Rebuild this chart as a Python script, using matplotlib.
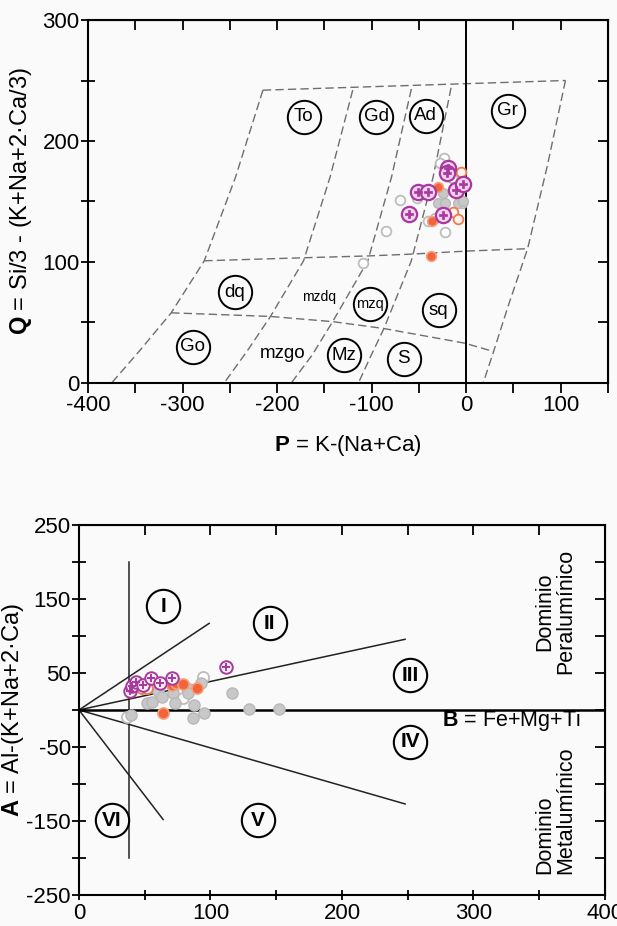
import matplotlib
matplotlib.use('Agg')
import matplotlib.pyplot as plt

plt.rcParams['font.family'] = ['Liberation Sans', 'DejaVu Sans']
plt.rcParams['mathtext.fontset'] = 'custom'
plt.rcParams['mathtext.rm'] = 'Liberation Sans'
plt.rcParams['mathtext.bf'] = 'Liberation Sans:bold'

# ---------------- P-Q diagram: field boundaries ----------------
pq_top_x = [-215, 105]
pq_top_y = [242, 250]
pq_h100_x = [-277, -172, -104, -58, 0, 65]
pq_h100_y = [101, 103.5, 105, 106.5, 109, 111]
pq_h58_x = [-312, -207, -141, -87, -2, 29]
pq_h58_y = [58, 55, 50.7, 45, 33, 26]
pq_c1_x = [-215, -244, -277, -312, -345, -375]
pq_c1_y = [242, 170, 101, 58, 27, 0]
pq_c2_x = [-120, -144, -172, -207, -232, -256]
pq_c2_y = [242, 170, 101, 55, 26, 0]
pq_c3_x = [-58, -79, -104, -141, -163, -185]
pq_c3_y = [243, 170, 101, 51, 23, 0]
pq_c4_x = [-16, -35, -58, -87, -101, -114]
pq_c4_y = [244, 170, 101, 45, 22, 0]
pq_c5_x = [105, 86, 65, 45, 29, 18]
pq_c5_y = [250, 180, 111, 65, 26, 0]

pq_circ_labels = ['To', 'Gd', 'Ad', 'Gr', 'dq', 'mzq', 'sq', 'Go', 'Mz', 'S']
pq_circ_x = [-172, -95, -43, 44, -245, -102, -29, -289, -129, -66]
pq_circ_y = [220, 220, 221, 225, 75, 65, 60, 30, 23, 20]
pq_plain_labels = ['mzdq', 'mzgo']
pq_plain_x = [-156, -194]
pq_plain_y = [71, 24]

# samples
pq_purple_x = [-18.9, -20.6, -51.3, -40.0, -11.1, -3.1, -60.5, -24.2]
pq_purple_y = [177.9, 173.3, 158.1, 157.6, 159.5, 164.2, 139.4, 138.8]
pq_orange_x = [-29.5, -35.8, -37.2]
pq_orange_y = [162.2, 133.9, 105.0]
pq_orange_open_x = [-5.5, -13.6, -9.0]
pq_orange_open_y = [174.6, 141.6, 135.5]
pq_gray_x = [-29.5, -22.4, -9.0, -24.2, -3.0]
pq_gray_y = [148.5, 148.5, 148.5, 156.8, 150.0]
pq_gray_open_x = [-23.2, -27.7, -70.0, -52.3, -40.0, -22.4, -15.4, -4.8, -84.8, -108.8, -33.0]
pq_gray_open_y = [185.7, 181.5, 151.2, 152.6, 133.9, 125.0, 169.1, 148.5, 125.9, 98.9, 136.0]

pq_xticks = [-400, -350, -300, -250, -200, -150, -100, -50, 0, 50, 100, 150]
pq_xticklabels = ['-400', '', '-300', '', '-200', '', '-100', '', '0', '', '100', '']
pq_yticks = [0, 50, 100, 150, 200, 250, 300]
pq_yticklabels = ['0', '', '100', '', '200', '', '300']

# ---------------- A-B diagram ----------------
ab_lines = [
    ([0, 99], [0, 117]),
    ([0, 248], [0, 95.5]),
    ([0, 248], [0, -127]),
    ([0, 64], [0, -148]),
    ([38, 38], [-200, 200]),
]
ab_zero_x = [0, 400]
ab_zero_y = [0, 0]

ab_labels = ['I', 'II', 'III', 'IV', 'V', 'VI']
ab_label_x = [64, 145, 252, 252, 136, 25]
ab_label_y = [140, 117, 47, -43, -149, -149]

ab_purple_x = [38.5, 40.0, 43.5, 49.0, 55.0, 61.5, 71.0, 111.5]
ab_purple_y = [25.0, 32.0, 38.0, 34.0, 43.0, 37.0, 43.0, 57.7]
ab_orange_x = [64.0, 70.5, 74.0, 79.0, 89.5]
ab_orange_y = [-4.5, 34.0, 36.0, 35.0, 30.0]
ab_orange_open_x = [47.7, 51.5]
ab_orange_open_y = [30.2, 30.2]
ab_gray_x = [59.8, 63.4, 51.5, 55.3, 39.5, 81.9, 83.1, 71.7, 73.0, 87.5, 95.0,
             86.9, 92.5, 116.1, 129.5, 152.3]
ab_gray_y = [25.7, 18.0, 9.0, 11.3, -6.8, 29.3, 22.5, 22.5, 9.0, 6.8, -4.5,
             -11.3, 36.9, 23.4, 0.9, 0.9]
ab_gray_open_x = [36.3, 79.3, 94.5]
ab_gray_open_y = [-9.0, 15.8, 45.0]

ab_xticks = [0, 50, 100, 150, 200, 250, 300, 350, 400]
ab_xticklabels = ['0', '', '100', '', '200', '', '300', '', '400']
ab_yticks = [-250, -200, -150, -100, -50, 0, 50, 100, 150, 200, 250]
ab_yticklabels = ['-250', '', '-150', '', '-50', '', '50', '', '150', '', '250']

BG = '#fafafa'
PURPLE = '#a8389e'
ORANGE = '#f2643a'
GRAY = '#c8c8c8'
TICK_FS = 16


def style_axes(ax, xt, xtl, yt, ytl, xdir):
    for s in ax.spines.values():
        s.set_linewidth(1.5)
    ax.set_xticks(xt)
    ax.set_xticklabels(xtl, fontsize=TICK_FS)
    ax.set_yticks(yt)
    ax.set_yticklabels(ytl, fontsize=TICK_FS)
    ax.tick_params(axis='x', direction=xdir, length=7, width=1.3, pad=2)
    ax.tick_params(axis='y', direction='inout', length=10, width=1.3, pad=1)
    top = ax.secondary_xaxis('top')
    top.set_xticks(xt)
    top.tick_params(direction='in', length=7, width=1.3, labeltop=False)
    right = ax.secondary_yaxis('right')
    right.set_yticks(yt)
    right.tick_params(direction='in', length=7, width=1.3, labelright=False)


def draw_samples(ax, px, py, ox, oy, oox, ooy, gx, gy, gox, goy, ms, big):
    ax.plot(gox, goy, 'o', ms=ms, mfc='white', mec='#bdbdbd', mew=1.3, zorder=3)
    ax.plot(gx, gy, 'o', ms=ms, mfc=GRAY, mec='#b8b8b8', mew=1.0, zorder=3)
    ax.plot(oox, ooy, 'o', ms=ms, mfc='#fff4ec', mec='#f07a50', mew=1.3, zorder=4)
    ax.plot(ox, oy, 'o', ms=ms, mfc=ORANGE, mec='#f5a07c', mew=1.2, zorder=4)
    if big:
        ax.plot(px, py, 'o', ms=ms + 4, mfc='#f2d2ee', mec=PURPLE, mew=1.6, zorder=5)
        ax.plot(px, py, 'P', ms=ms - 1, mfc=PURPLE, mec=PURPLE, mew=0.5, zorder=6)
    else:
        ax.plot(px, py, 'o', ms=ms + 1, mfc='#fbf0fa', mec=PURPLE, mew=1.4, zorder=5)
        ax.plot(px, py, '+', ms=ms - 2, mec=PURPLE, mew=1.4, zorder=6)


fig = plt.figure(figsize=(6.17, 9.26), dpi=100, facecolor=BG)

# ---------------- top: P-Q ----------------
ax1 = fig.add_axes([0.1426, 0.5864, 0.8428, 0.392], facecolor=BG)
dash = dict(color='#6e6e6e', lw=1.0, dashes=(6, 3))
for xs, ys in [(pq_top_x, pq_top_y), (pq_h100_x, pq_h100_y), (pq_h58_x, pq_h58_y),
               (pq_c1_x, pq_c1_y), (pq_c2_x, pq_c2_y), (pq_c3_x, pq_c3_y),
               (pq_c4_x, pq_c4_y), (pq_c5_x, pq_c5_y)]:
    ax1.plot(xs, ys, **dash)
ax1.plot([0, 0], [0, 300], color='black', lw=1.4)

ax1.plot(pq_circ_x, pq_circ_y, 'o', ms=24, mfc='none', mec='black', mew=1.4)
for lab, x, y in zip(pq_circ_labels, pq_circ_x, pq_circ_y):
    ax1.text(x, y, lab, ha='center', va='center',
             fontsize=10.5 if lab == 'mzq' else 13.5)
for lab, x, y in zip(pq_plain_labels, pq_plain_x, pq_plain_y):
    ax1.text(x, y, lab, ha='center', va='center',
             fontsize=10 if lab == 'mzdq' else 13.5)

draw_samples(ax1, pq_purple_x, pq_purple_y, pq_orange_x, pq_orange_y,
             pq_orange_open_x, pq_orange_open_y, pq_gray_x, pq_gray_y,
             pq_gray_open_x, pq_gray_open_y, ms=7, big=True)

ax1.set_xlim(-400, 150)
ax1.set_ylim(0, 300)
style_axes(ax1, pq_xticks, pq_xticklabels, pq_yticks, pq_yticklabels, 'out')
ax1.set_xlabel(r'$\mathbf{P}$ = K-(Na+Ca)', fontsize=16, labelpad=12)
ax1.set_ylabel(r'$\mathbf{Q}$ = Si/3 - (K+Na+2·Ca/3)', fontsize=17, labelpad=6)

# ---------------- bottom: A-B ----------------
ax2 = fig.add_axes([0.128, 0.0335, 0.8525, 0.3996], facecolor=BG)
for xs, ys in ab_lines:
    ax2.plot(xs, ys, color='#222222', lw=1.1)
ax2.plot(ab_zero_x, ab_zero_y, color='black', lw=1.8)

ax2.plot(ab_label_x, ab_label_y, 'o', ms=24, mfc='none', mec='black', mew=1.5)
for lab, x, y in zip(ab_labels, ab_label_x, ab_label_y):
    ax2.text(x, y, lab, ha='center', va='center', fontsize=15, fontweight='bold',
             family=['Liberation Sans Narrow', 'Liberation Sans'])

draw_samples(ax2, ab_purple_x, ab_purple_y, ab_orange_x, ab_orange_y,
             ab_orange_open_x, ab_orange_open_y, ab_gray_x, ab_gray_y,
             ab_gray_open_x, ab_gray_open_y, ms=8, big=False)

ax2.text(276, -14, r'$\mathbf{B}$ = Fe+Mg+Ti', ha='left', va='center', fontsize=15.5)
ax2.text(362, 133, 'Dominio\nPeralumínico', rotation=90, ha='center', va='center',
         multialignment='center', fontsize=15.5, linespacing=1.0)
ax2.text(362, -136, 'Dominio\nMetalumínico', rotation=90, ha='center', va='center',
         multialignment='left', fontsize=15.5, linespacing=1.0)

ax2.set_xlim(0, 400)
ax2.set_ylim(-250, 250)
style_axes(ax2, ab_xticks, ab_xticklabels, ab_yticks, ab_yticklabels, 'inout')
ax2.set_ylabel(r'$\mathbf{A}$ = Al-(K+Na+2·Ca)', fontsize=17, labelpad=0)

fig.savefig('out.png', dpi=100, facecolor=BG)
